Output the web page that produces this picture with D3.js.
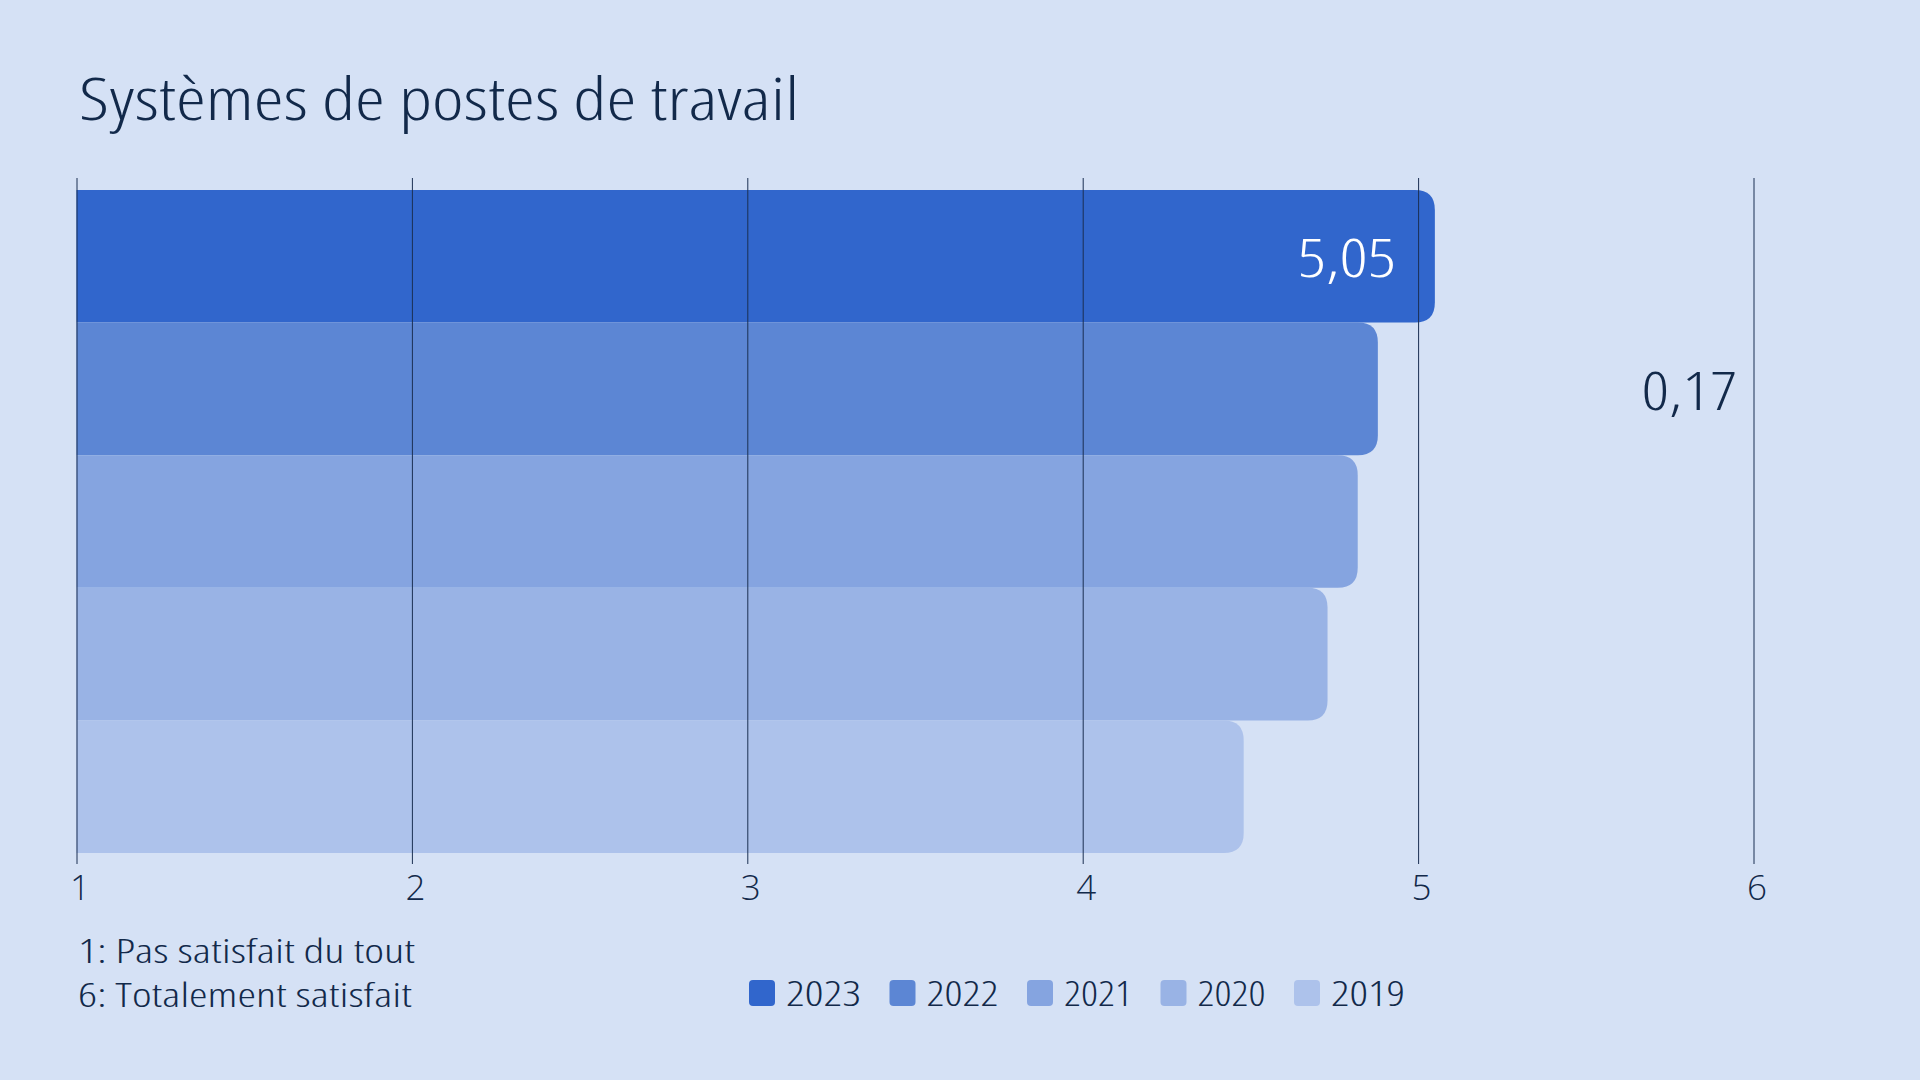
<!DOCTYPE html>
<html>
<head>
<meta charset="utf-8">
<script src="https://cdn.jsdelivr.net/npm/d3@7"></script>
<style>
  html, body { margin: 0; padding: 0; background: #d5e1f5; }
  svg text { font-family: "Open Sans", "Noto Sans", sans-serif; font-stretch: 87%; fill: #12294a; }
  .x-axis text { font-stretch: 100%; }
</style>
</head>
<body>
<div id="chart-area"></div>
<script>
// data
var years = ["2023", "2022", "2021", "2020", "2019"];
var values = [5.05, 4.88, 4.82, 4.73, 4.48];
var colors = ["#3166cc", "#5c86d4", "#85a4e0", "#99b3e5", "#adc2eb"];
var ticks = [1, 2, 3, 4, 5, 6];
var notes = ["1: Pas satisfait du tout", "6: Totalement satisfait"];
var title = "Systèmes de postes de travail";

var W = 1920, H = 1080;
var fmt = d => d3.format(".2f")(d).replace(".", ",");

// the original face is narrower than Open Sans, squeeze to the measured width
function fit(sel, w) {
    var n = sel.node().getComputedTextLength();
    if (Math.abs(n - w) > 2) {
        sel.attr("textLength", w).attr("lengthAdjust", "spacingAndGlyphs");
    }
    return sel;
}

var svg = d3.select("#chart-area")
    .append("svg")
        .attr("width", W)
        .attr("height", H);

svg.append("rect")
    .attr("width", W)
    .attr("height", H)
    .attr("fill", "#d5e1f5");

svg.append("text")
    .attr("x", 79)
    .attr("y", 120)
    .attr("font-size", 58)
    .attr("font-weight", 300)
    .text(title)
    .call(fit, 720);

var x = d3.scaleLinear()
    .domain([1, 6])
    .range([76.5, 1753.5]);

var y = d3.scaleBand()
    .domain(years)
    .range([190, 853])
    .padding(0);

var bh = y.bandwidth();
var r = 20;

// bars: square on the left, rounded on the right
svg.selectAll(".bar")
    .data(years)
    .enter()
    .append("path")
        .attr("class", "bar")
        .attr("fill", (d, i) => colors[i])
        .attr("d", (d, i) => {
            var x0 = x(1), x1 = x(values[i]), y0 = y(d), y1 = y(d) + bh;
            return "M" + x0 + "," + y0 +
                "H" + (x1 - r) +
                "Q" + x1 + "," + y0 + " " + x1 + "," + (y0 + r) +
                "V" + (y1 - r) +
                "Q" + x1 + "," + y1 + " " + (x1 - r) + "," + y1 +
                "H" + x0 + "Z";
        });

// vertical grid lines drawn over the bars
var xAxisCall = d3.axisBottom(x)
    .tickValues(ticks)
    .tickSize(864 - 178)
    .tickFormat(d => d);

var xAxis = svg.append("g")
    .attr("class", "x-axis")
    .attr("transform", "translate(0, 178)")
    .call(xAxisCall);
xAxis.select(".domain").remove();
xAxis.selectAll("line")
    .attr("stroke", "#1b2f52")
    .attr("stroke-width", 1);
xAxis.selectAll("text")
    .attr("y", 722)
    .attr("dy", 0)
    .attr("x", 3)
    .attr("font-size", 35)
    .attr("font-weight", 300)
    .attr("font-family", "'Open Sans', 'Noto Sans', sans-serif")
    .attr("fill", "#12294a");

// value of the latest year inside its bar
svg.append("text")
    .attr("x", x(values[0]) - 39)
    .attr("y", y(years[0]) + bh / 2 + 21)
    .attr("text-anchor", "end")
    .attr("font-size", 54)
    .attr("font-weight", 300)
    .style("fill", "#ffffff")
    .text(fmt(values[0]))
    .call(fit, 98);

// change versus previous year
svg.append("text")
    .attr("x", x(6) - 16)
    .attr("y", y(years[1]) + bh / 2 + 21)
    .attr("text-anchor", "end")
    .attr("font-size", 54)
    .attr("font-weight", 300)
    .text(fmt(values[0] - values[1]))
    .call(fit, 96);

// scale notes
var noteW = [337, 334];
svg.selectAll(".note")
    .data(notes)
    .enter()
    .append("text")
        .attr("class", "note")
        .attr("x", 78)
        .attr("y", (d, i) => 963 + i * 44)
        .attr("font-size", 33)
        .attr("font-weight", 300)
        .text(d => d)
        .each(function(d, i) { fit(d3.select(this), noteW[i]); });

// legend
var legendW = [75, 72, 68, 68, 74];
var lx = 749;
years.forEach((d, i) => {
    var item = svg.append("g").attr("transform", "translate(" + lx + ", 980)");
    item.append("rect")
        .attr("width", 26)
        .attr("height", 26)
        .attr("rx", 4)
        .attr("fill", colors[i]);
    item.append("text")
        .attr("x", 37)
        .attr("y", 25.5)
        .attr("font-size", 35)
        .attr("font-weight", 300)
        .text(d)
        .call(fit, legendW[i]);
    lx += 37 + legendW[i] + 28.5;
});
</script>
</body>
</html>
